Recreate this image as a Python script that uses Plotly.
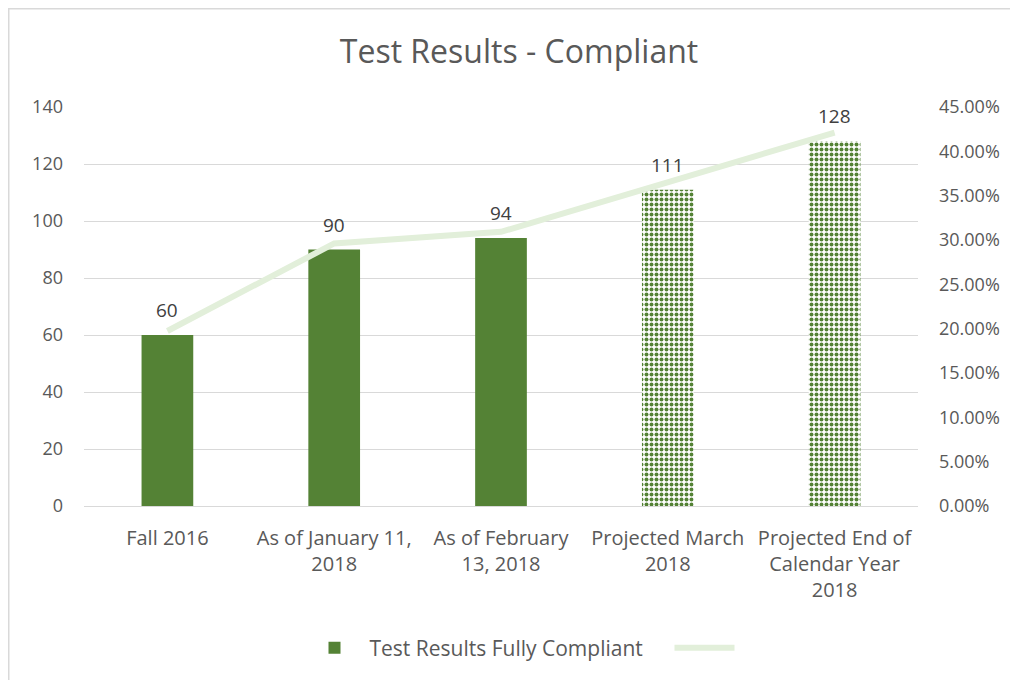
import plotly.graph_objects as go

categories = ["Fall 2016", "As of January 11,<br>2018", "As of February<br>13, 2018",
              "Projected March<br>2018", "Projected End of<br>Calendar Year<br>2018"]
compliant = [60, 90, 94, 111, 128]
percent = [0.1974, 0.2961, 0.3092, 0.3651, 0.4211]
projected = [False, False, False, True, True]
bar_name = "Test Results Fully Compliant"
title = "Test Results - Compliant"

GREEN = "#548235"
LIGHT = "#E2EFDA"
TXT = "#595959"
FONT = "Open Sans"

# page body has an 8px margin: figure is drawn in a 1010x672 box
W, H = 1010, 672
L, R, T, B = 76, 100, 99, 174
PW, PH = W - L - R, H - T - B

x_idx = list(range(len(categories)))

fig = go.Figure()
fig.add_trace(go.Bar(
    x=x_idx, y=compliant, name=bar_name, width=0.31, legendwidth=295,
    marker=dict(color=GREEN, line=dict(width=0),
                pattern=dict(shape=["." if p else "" for p in projected],
                             fgcolor=GREEN, bgcolor="white", fgopacity=1,
                             size=5, solidity=0.5, fillmode="replace")),
    yaxis="y",
))
fig.add_trace(go.Scatter(
    x=x_idx, y=percent, name=" ", mode="lines", legendwidth=60,
    line=dict(color=LIGHT, width=6), yaxis="y2",
))

annotations = [dict(x=xi, y=v, xref="x", yref="y", text=str(v), showarrow=False,
                    yanchor="bottom", yshift=10,
                    font=dict(size=19, color="#404040", family=FONT))
               for xi, v in zip(x_idx, compliant)]

fig.update_layout(
    width=W, height=H,
    margin=dict(l=L, r=R, t=T, b=B, autoexpand=False),
    paper_bgcolor="white", plot_bgcolor="white",
    font=dict(family=FONT, color=TXT, size=18),
    title=dict(text=title, x=511 / W, xref="container", xanchor="center",
               y=1 - 44 / H, yanchor="middle",
               font=dict(size=32, color=TXT, family=FONT)),
    xaxis=dict(tickvals=x_idx, ticktext=categories, range=[-0.5, 4.5],
               showgrid=False, showline=True, linecolor="#d9d9d9", linewidth=1,
               ticks="", ticklabelstandoff=14, tickfont=dict(size=20, color=TXT)),
    yaxis=dict(range=[0, 140], dtick=20, showgrid=True, gridcolor="#d9d9d9",
               gridwidth=1, zeroline=False, showline=False, ticks="",
               ticklabelstandoff=20, tickfont=dict(size=18, color=TXT)),
    yaxis2=dict(range=[0, 0.45], dtick=0.05, tickformat=".2%", overlaying="y",
                side="right", showgrid=False, zeroline=False, showline=False,
                ticks="", ticklabelstandoff=20, tickfont=dict(size=18, color=TXT)),
    legend=dict(orientation="h", x=(544 - L) / PW, xanchor="center", y=(498 - 640) / PH,
                yanchor="middle", font=dict(size=21, color=TXT), itemwidth=60,
                traceorder="normal"),
    annotations=annotations,
    shapes=[dict(type="rect", xref="paper", yref="paper",
                 x0=(0.5 - L) / PW, x1=(W + 20 - L) / PW,
                 y0=-(H + 20 - (T + PH)) / PH, y1=1 + (T - 0.5) / PH,
                 line=dict(color="#d9d9d9", width=2), fillcolor="rgba(0,0,0,0)",
                 layer="below")],
)

fig.write_html("out.html")
